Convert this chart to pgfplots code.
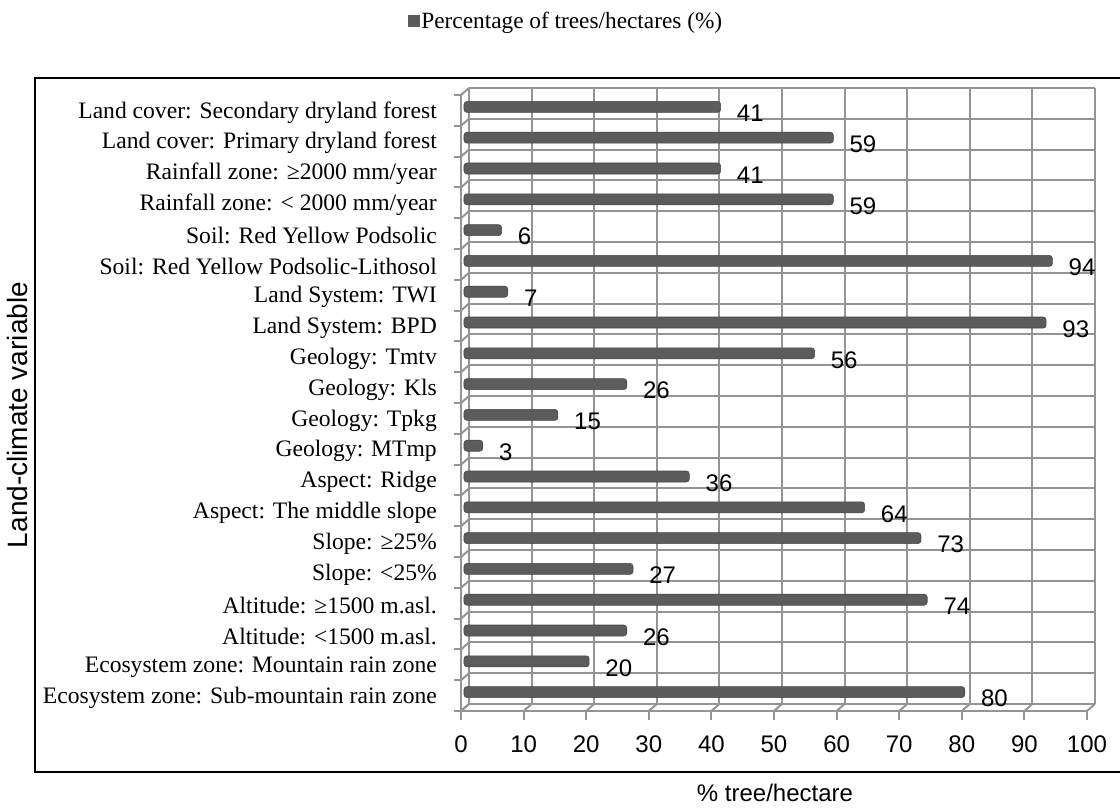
\documentclass[border=0pt]{standalone}
\usepackage{fontspec}
\setmainfont{Liberation Serif}
\newfontfamily\arial{Liberation Sans}
\usepackage{pgfplots}
\pgfplotsset{compat=1.18}
\definecolor{gridc}{HTML}{949494}
\definecolor{barc}{HTML}{5C5C5C}

\pgfplotstableread{
idx val
0 80
1 20
2 26
3 74
4 27
5 73
6 64
7 36
8 3
9 15
10 26
11 56
12 93
13 7
14 94
15 6
16 59
17 41
18 59
19 41
}\datatable

\begin{document}
\begin{tikzpicture}
\path[use as bounding box] (0,0) rectangle (1120pt,807pt);
\draw[line width=2.2pt] (1130pt,729pt) -- (35pt,729pt) -- (35pt,35pt) -- (1130pt,35pt);
\begin{axis}[
  at={(461pt,96pt)}, anchor=south west,
  scale only axis, width=626pt, height=616pt,
  xmin=0, xmax=100, ymin=-0.5, ymax=19.5,
  enlargelimits=false, clip=false,
  axis line style={draw=none},
  major tick length=0pt,
  tick style={draw=none},
  xtick={0,10,...,100},
  ytick={0,...,19},
  yticklabels={
    Ecosystem zone: Sub-mountain rain zone,
    Ecosystem zone: Mountain rain zone,
    Altitude: <1500 m.asl.,
    Altitude: ≥1500 m.asl.,
    Slope: <25\%,
    Slope: ≥25\%,
    Aspect: The middle slope,
    Aspect: Ridge,
    Geology: MTmp,
    Geology: Tpkg,
    Geology: Kls,
    Geology: Tmtv,
    Land System: BPD,
    Land System: TWI,
    Soil: Red Yellow Podsolic-Lithosol,
    Soil: Red Yellow Podsolic,
    Rainfall zone: < 2000 mm/year,
    Rainfall zone: ≥2000 mm/year,
    Land cover: Primary dryland forest,
    Land cover: Secondary dryland forest},
  /pgf/number format/assume math mode=true,
  xticklabel style={font=\arial\fontsize{24}{24}\selectfont, anchor=north, inner sep=0pt, yshift=-25pt},
  yticklabel style={font=\fontsize{23.6}{24}\selectfont, anchor=east, inner sep=0pt, xshift=-24pt, yshift=-2pt},
  xlabel={\% tree/hectare},
  ylabel={Land-climate variable},
  xlabel style={font=\arial\fontsize{24}{24}\selectfont, at={(axis description cs:0.5016,-0.1331)}, anchor=center},
  ylabel style={font=\arial\fontsize{28}{28}\selectfont, at={(axis description cs:-0.7077,0.4805)}, anchor=center},
  legend style={at={(axis description cs:0.1677,1.1201)}, anchor=center, draw=none, fill=none,
     font=\fontsize{23.3}{24}\selectfont, inner sep=0pt},
]
% back wall verticals, floor diagonals, bottom ticks
\pgfplotsinvokeforeach{0,10,...,100}{
  \draw[gridc, line width=2pt] (axis cs:#1,-0.5) ++(8pt,7pt) -- ++(0pt,616pt);
  \draw[gridc, line width=2pt] (axis cs:#1,-0.5) -- ++(8pt,7pt);
  \draw[gridc, line width=2pt] (axis cs:#1,-0.5) -- ++(0pt,-9pt);
}
% back wall horizontals, left wall diagonals, left ticks
\pgfplotsinvokeforeach{-0.5,0.5,...,19.5}{
  \draw[gridc, line width=2pt] (axis cs:0,#1) ++(8pt,7pt) -- ++(626pt,0pt);
  \draw[gridc, line width=2pt] (axis cs:0,#1) -- ++(8pt,7pt);
  \draw[gridc, line width=2pt] (axis cs:0,#1) -- ++(-7pt,0pt);
}
\draw[gridc, line width=2pt] (axis cs:0,-0.5) -- (axis cs:0,19.5);
\draw[gridc, line width=2pt] (axis cs:0,-0.5) -- (axis cs:100,-0.5);

\addplot[xbar, bar width=11pt, bar shift=3.5pt, draw=black!72, line width=0.6pt,
  fill=barc, rounded corners=3pt, xshift=3pt,
  nodes near coords, nodes near coords align={horizontal},
  every node near coord/.append style={font=\arial\fontsize{24}{24}\selectfont, anchor=west,
     inner sep=0pt, xshift=16pt, yshift=-3pt, text=black},
  legend image code/.code={\fill[barc, sharp corners] (0pt,-5.5pt) rectangle (11pt,5.5pt);}]
  table[x=val, y=idx] {\datatable};
\addlegendentry{Percentage of trees/hectares (\%)}
\end{axis}
\end{tikzpicture}
\end{document}
